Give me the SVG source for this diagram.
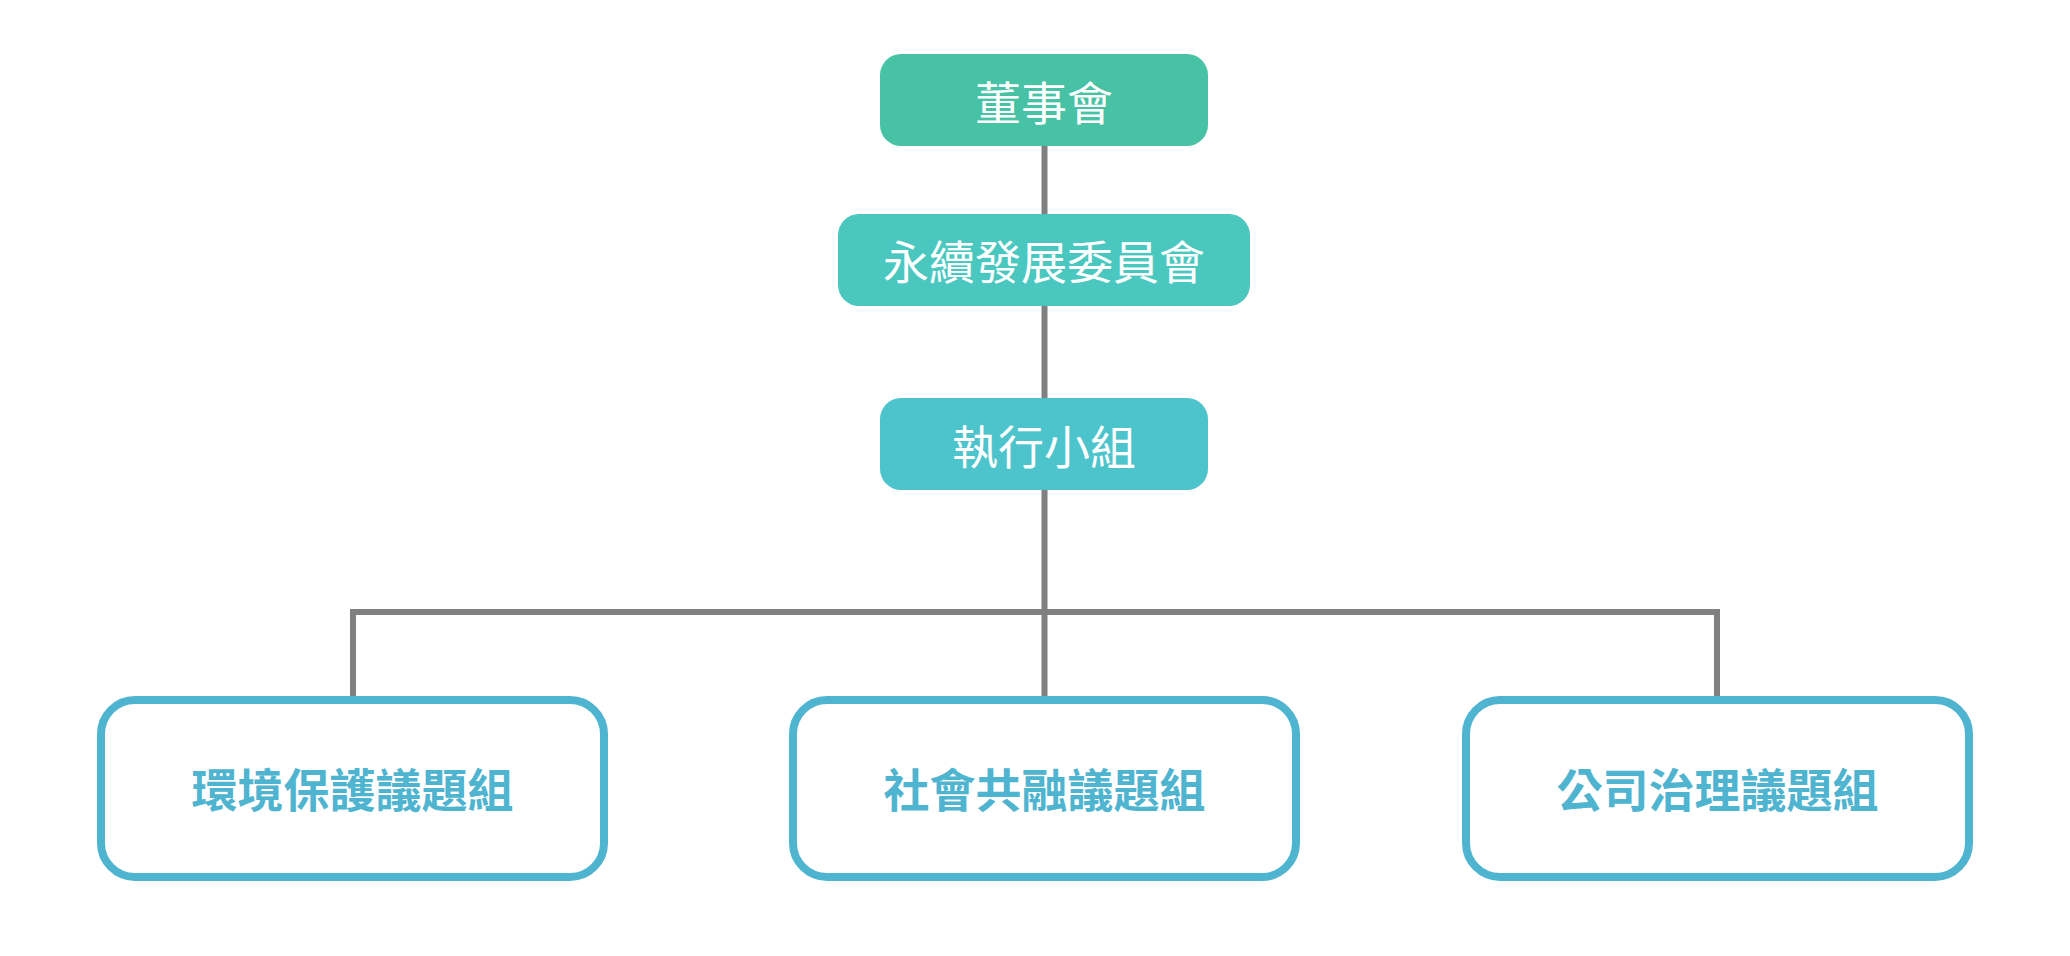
<svg xmlns="http://www.w3.org/2000/svg" width="2070" height="956" viewBox="0 0 2070 956">
<style>
.conn{fill:none;stroke:#808080;stroke-width:6;stroke-linejoin:miter;stroke-linecap:butt}
.top{font-family:"Noto Sans CJK TC","Noto Sans CJK SC",sans-serif;font-size:46px;fill:#ffffff;text-anchor:middle}
.grp rect{fill:#ffffff;stroke:#4FB4D0;stroke-width:8}
.grp text{font-family:"Noto Sans CJK TC","Noto Sans CJK SC",sans-serif;font-size:46px;font-weight:700;fill:#4FB4D0;text-anchor:middle}
</style>
<rect width="2070" height="956" fill="#ffffff"/>
<g id="connectors">
<path class="conn" d="M1044.5,146 V214"/>
<path class="conn" d="M1044.5,306 V398"/>
<path class="conn" d="M1044.5,490 V700"/>
<path class="conn" d="M353,700 V612 H1717 V700"/>
</g>
<g id="board">
<rect x="880" y="54" width="328" height="92" rx="21" fill="#47C2A4"/>
<text class="top" x="1044" y="120">董事會</text>
</g>
<g id="sustainability-committee">
<rect x="838" y="214" width="412" height="92" rx="21" fill="#4AC8BF"/>
<text class="top" x="1044" y="279">永續發展委員會</text>
</g>
<g id="executive-group">
<rect x="880" y="398" width="328" height="92" rx="21" fill="#4DC4CB"/>
<text class="top" x="1044" y="464">執行小組</text>
</g>
<g id="environment" class="grp">
<rect x="101" y="700" width="503" height="177" rx="34"/>
<text x="352.5" y="807">環境保護議題組</text>
</g>
<g id="social" class="grp">
<rect x="793" y="700" width="503" height="177" rx="34"/>
<text x="1044.5" y="807">社會共融議題組</text>
</g>
<g id="governance" class="grp">
<rect x="1466" y="700" width="503" height="177" rx="34"/>
<text x="1717.5" y="807">公司治理議題組</text>
</g>
</svg>
